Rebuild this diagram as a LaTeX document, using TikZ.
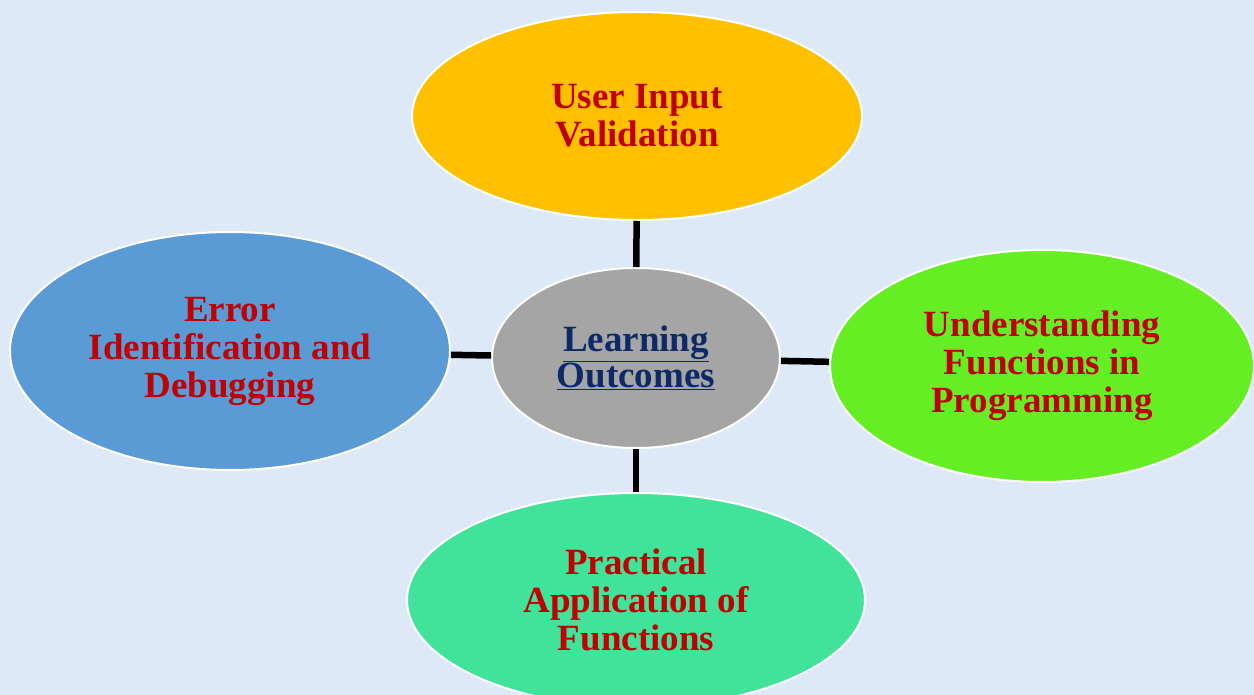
\documentclass[tikz,border=0pt]{standalone}
\usepackage{fontspec}
\setmainfont{Liberation Serif}
\usetikzlibrary{shapes.geometric}
\definecolor{bgblue}{HTML}{DDE9F6}
\definecolor{topyellow}{HTML}{FFC000}
\definecolor{leftblue}{HTML}{5B9BD5}
\definecolor{rightgreen}{HTML}{66EE24}
\definecolor{bottomgreen}{HTML}{41E29A}
\definecolor{centergray}{HTML}{A5A5A5}
\definecolor{textred}{HTML}{C00000}
\definecolor{textnavy}{HTML}{0D2A66}
\begin{document}
\begin{tikzpicture}[x=1pt,y=-1pt]
    \tikzstyle{bubble} = [draw=white, line width=2pt, ellipse, inner sep=0pt, align=center,
        font=\fontsize{37}{38}\selectfont\bfseries, text=textred]
    \tikzstyle{link} = [line width=6.5pt, black]
    % Background
    \fill [bgblue] (0,0) rectangle (1254,695);
    \useasboundingbox (0,0) rectangle (1254,695);
    \clip (0,0) rectangle (1254,695);

    % Centre bubble
    \node [bubble, fill=centergray, minimum width=288pt, minimum height=180pt, text=textnavy] (Outcomes) at (636,358)
        {\underline{Learning}\\[-2pt]\underline{Outcomes}};

    % Top bubble
    \node [bubble, fill=topyellow, minimum width=450pt, minimum height=208pt] (Validation) at (637,116) {User Input\\Validation};
    \draw [link] (Validation) -- (Outcomes);

    % Left bubble
    \node [bubble, fill=leftblue, minimum width=440pt, minimum height=238pt] (Debugging) at (230,351) {Error\\Identification and\\Debugging};
    \draw [link] (Debugging) -- (Outcomes);

    % Right bubble
    \node [bubble, fill=rightgreen, minimum width=424pt, minimum height=232pt] (Functions) at (1042,366) {Understanding\\Functions in\\Programming};
    \draw [link] (Functions) -- (Outcomes);

    % Bottom bubble
    \node [bubble, fill=bottomgreen, minimum width=458pt, minimum height=214pt] (Application) at (636,600) {Practical\\Application of\\Functions};
    \draw [link] (Application) -- (Outcomes);
\end{tikzpicture}
\end{document}
